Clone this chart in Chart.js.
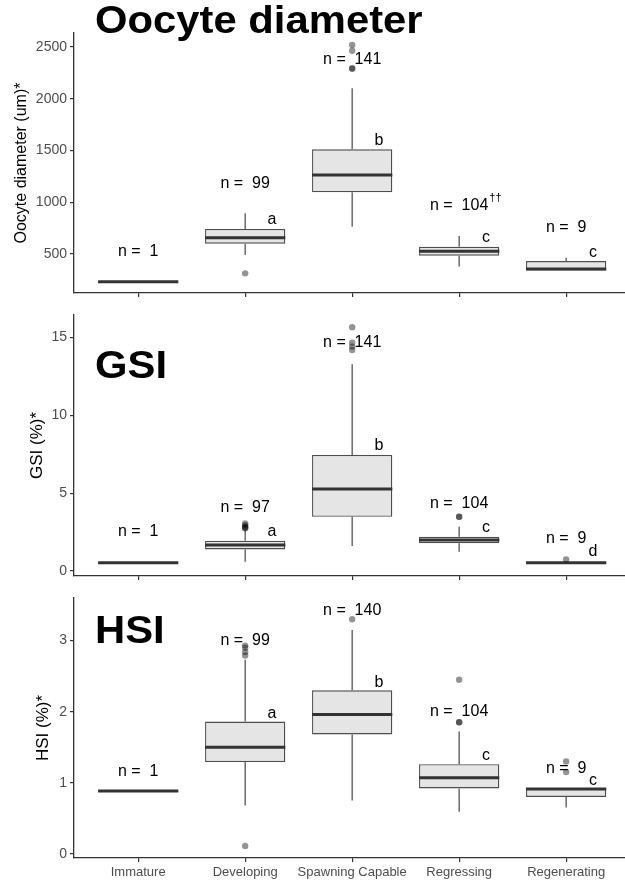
<!DOCTYPE html>
<html><head><meta charset="utf-8">
<script src="https://cdn.jsdelivr.net/npm/chart.js@4/dist/chart.umd.min.js"></script>
<style>
html,body{margin:0;padding:0;background:#fff;}
body{width:625px;height:881px;overflow:hidden;position:relative;}
canvas{position:absolute;left:0;}
</style></head>
<body>
<canvas id="c1" width="625" height="300" style="top:0px"></canvas>
<canvas id="c2" width="625" height="285" style="top:300px"></canvas>
<canvas id="c3" width="625" height="296" style="top:585px"></canvas>
<script>
const categories = ['Immature', 'Developing', 'Spawning Capable', 'Regressing', 'Regenerating'];

// ---- Oocyte diameter (um) ----
const oocyteLow  = [232, 490, 764, 378, 340];
const oocyteQ1   = [232, 600, 1096, 484, 340];
const oocyteMed  = [232, 658, 1263, 527, 355];
const oocyteQ3   = [232, 741, 1511, 570, 431];
const oocyteHigh = [232, 893, 2101, 674, 464];
const oocyteOut  = [[], [313], [2519, 2464, 2294, 2290], [], []];
const oocyteN    = [1, 99, 141, 104, 9];
const oocyteNSup = ['', '', '', '\u2020\u2020', ''];
const oocyteNAt  = [519, 1176, 2374, 964, 751];
const oocyteLetters  = ['', 'a', 'b', 'c', 'c'];
const oocyteLetterAt = [null, 828, 1595, 655, 510];
const oocyteTicks = [500, 1000, 1500, 2000, 2500];

// ---- GSI (%) ----
const gsiLow  = [0.53, 0.60, 1.61, 1.24, 0.52];
const gsiQ1   = [0.53, 1.39, 3.49, 1.78, 0.52];
const gsiMed  = [0.53, 1.67, 5.27, 1.99, 0.53];
const gsiQ3   = [0.53, 1.95, 7.46, 2.20, 0.54];
const gsiHigh = [0.53, 2.62, 13.28, 2.85, 0.54];
const gsiOut  = [[], [3.05, 2.95, 2.85, 2.78, 2.75], [15.66, 14.67, 14.42, 14.2], [3.49, 3.49], [0.75]];
const gsiN    = [1, 97, 141, 104, 9];
const gsiNSup = ['', '', '', '', ''];
const gsiNAt  = [2.53, 4.05, 14.67, 4.31, 2.06];
const gsiLetters  = ['', 'a', 'b', 'c', 'd'];
const gsiLetterAt = [null, 2.53, 8.05, 2.78, 1.22];
const gsiTicks = [0, 5, 10, 15];

// ---- HSI (%) ----
const hsiLow  = [0.883, 0.68, 0.75, 0.59, 0.65];
const hsiQ1   = [0.883, 1.29, 1.68, 0.92, 0.80];
const hsiMed  = [0.883, 1.50, 1.96, 1.07, 0.91];
const hsiQ3   = [0.883, 1.86, 2.30, 1.26, 0.925];
const hsiHigh = [0.883, 2.73, 3.15, 1.72, 0.925];
const hsiOut  = [[], [2.93, 2.90, 2.84, 2.79, 0.11], [3.30], [2.45, 1.85, 1.85], [1.30, 1.15]];
const hsiN    = [1, 99, 140, 104, 9];
const hsiNSup = ['', '', '', '', ''];
const hsiNAt  = [1.16, 3.0, 3.42, 2.0, 1.2];
const hsiLetters  = ['', 'a', 'b', 'c', 'c'];
const hsiLetterAt = [null, 1.97, 2.41, 1.38, 1.03];
const hsiTicks = [0, 1, 2, 3];

const FONT = '"Liberation Sans", Arial, Helvetica, sans-serif';
const BOX_HALF = 0.375;
const LETTER_DX = 0.25;

function buildChart(id, p) {
  const whisk = [], meds = [], boxes = [], outs = [];
  categories.forEach((c, i) => {
    whisk.push({x: i, y: p.low[i]}, {x: i, y: p.q1[i]}, {x: i, y: null},
               {x: i, y: p.q3[i]}, {x: i, y: p.high[i]}, {x: i, y: null});
    meds.push({x: i - BOX_HALF, y: p.med[i]}, {x: i + BOX_HALF, y: p.med[i]}, {x: i, y: null});
    boxes.push({x: i, y: [p.q1[i], p.q3[i]]});
    p.out[i].forEach(v => outs.push({x: i, y: v}));
  });

  const textPlugin = {
    id: 'texts_' + id,
    afterDatasetsDraw(chart) {
      const ctx = chart.ctx, xs = chart.scales.x, ys = chart.scales.y;
      ctx.save();
      ctx.fillStyle = '#000';
      ctx.textBaseline = 'middle';
      categories.forEach((c, i) => {
        const x = xs.getPixelForValue(i);
        const y = ys.getPixelForValue(p.nAt[i]);
        ctx.font = '16px ' + FONT;
        ctx.textAlign = 'center';
        const txt = 'n =  ' + p.n[i];
        ctx.fillText(txt, x, y);
        if (p.nSup[i]) {
          const w = ctx.measureText(txt).width;
          ctx.font = '11px ' + FONT;
          ctx.textAlign = 'left';
          ctx.fillText(p.nSup[i], x + w / 2 + 1, y - 8);
        }
        if (p.letters[i]) {
          ctx.font = '16px ' + FONT;
          ctx.textAlign = 'center';
          ctx.fillText(p.letters[i], xs.getPixelForValue(i + LETTER_DX), ys.getPixelForValue(p.letterAt[i]));
        }
      });
      // panel title
      ctx.font = 'bold 38px ' + FONT;
      ctx.textAlign = 'left';
      ctx.textBaseline = 'alphabetic';
      ctx.translate(p.titleX, p.titleBase);
      ctx.scale(1.1, 1);
      ctx.fillText(p.title, 0, 0);
      ctx.restore();
    }
  };

  return new Chart(document.getElementById(id), {
    type: 'bar',
    data: {
      datasets: [
        {type: 'scatter', data: outs, order: 0, pointRadius: 3.2, pointHoverRadius: 3.2,
         backgroundColor: 'rgba(0,0,0,0.42)', borderWidth: 0, pointBorderWidth: 0},
        {type: 'line', data: meds, order: 1, borderColor: '#333333', borderWidth: 3,
         pointRadius: 0, spanGaps: false, borderCapStyle: 'butt', fill: false},
        {type: 'bar', data: boxes, order: 2, backgroundColor: '#e5e5e5', borderColor: '#4d4d4d',
         borderWidth: 1.3, borderSkipped: false, categoryPercentage: 1, barPercentage: 0.75},
        {type: 'line', data: whisk, order: 3, borderColor: '#555555', borderWidth: 1.3,
         pointRadius: 0, spanGaps: false, fill: false}
      ]
    },
    options: {
      responsive: false,
      animation: false,
      events: [],
      layout: {autoPadding: false, padding: {top: p.padTop, left: 0, right: 0, bottom: 0}},
      plugins: {legend: {display: false}, tooltip: {enabled: false}, title: {display: false}},
      scales: {
        x: {
          type: 'linear', min: -0.6, max: 4.55, offset: false,
          afterBuildTicks: s => { s.ticks = categories.map((c, i) => ({value: i})); },
          afterFit: s => { s.height = p.xHeight; s.paddingLeft = 0; s.paddingRight = 0; },
          ticks: {display: p.showX, autoSkip: false, maxRotation: 0, minRotation: 0,
                  callback: v => categories[v], color: '#4d4d4d', padding: 3,
                  font: {family: FONT, size: 13}},
          grid: {offset: false, drawOnChartArea: false, drawTicks: true, tickLength: 4,
                 color: '#333333', lineWidth: 1.2},
          border: {display: true, color: '#333333', width: 1.3}
        },
        y: {
          type: 'linear', min: p.yMin, max: p.yMax,
          afterBuildTicks: s => { s.ticks = p.ticks.map(v => ({value: v})); },
          afterFit: s => { s.width = 74; s.paddingTop = 0; s.paddingBottom = 0; },
          ticks: {callback: v => String(v), color: '#4d4d4d', padding: 3,
                  font: {family: FONT, size: 14}},
          grid: {drawOnChartArea: false, drawTicks: true, tickLength: 4,
                 color: '#333333', lineWidth: 1.2},
          border: {display: true, color: '#333333', width: 1.3},
          title: {display: true, text: p.yTitle, color: '#000',
                  font: {family: FONT, size: p.yTitleSize}, padding: {top: p.yTitlePad, bottom: 0}}
        }
      }
    },
    plugins: [textPlugin]
  });
}

buildChart('c1', {
  low: oocyteLow, q1: oocyteQ1, med: oocyteMed, q3: oocyteQ3, high: oocyteHigh, out: oocyteOut,
  n: oocyteN, nSup: oocyteNSup, nAt: oocyteNAt, letters: oocyteLetters, letterAt: oocyteLetterAt,
  ticks: oocyteTicks, yMin: 123, yMax: 2635, padTop: 33, xHeight: 7, showX: false,
  yTitle: 'Oocyte diameter (um)*', yTitleSize: 16, yTitlePad: 12,
  title: 'Oocyte diameter', titleX: 95, titleBase: 33
});
buildChart('c2', {
  low: gsiLow, q1: gsiQ1, med: gsiMed, q3: gsiQ3, high: gsiHigh, out: gsiOut,
  n: gsiN, nSup: gsiNSup, nAt: gsiNAt, letters: gsiLetters, letterAt: gsiLetterAt,
  ticks: gsiTicks, yMin: -0.32, yMax: 16.45, padTop: 15, xHeight: 9, showX: false,
  yTitle: 'GSI (%)*', yTitleSize: 17, yTitlePad: 27,
  title: 'GSI', titleX: 95, titleBase: 78
});
buildChart('c3', {
  low: hsiLow, q1: hsiQ1, med: hsiMed, q3: hsiQ3, high: hsiHigh, out: hsiOut,
  n: hsiN, nSup: hsiNSup, nAt: hsiNAt, letters: hsiLetters, letterAt: hsiLetterAt,
  ticks: hsiTicks, yMin: -0.06, yMax: 3.6, padTop: 13, xHeight: 23, showX: true,
  yTitle: 'HSI (%)*', yTitleSize: 17, yTitlePad: 33,
  title: 'HSI', titleX: 95, titleBase: 58
});
</script>
</body></html>
